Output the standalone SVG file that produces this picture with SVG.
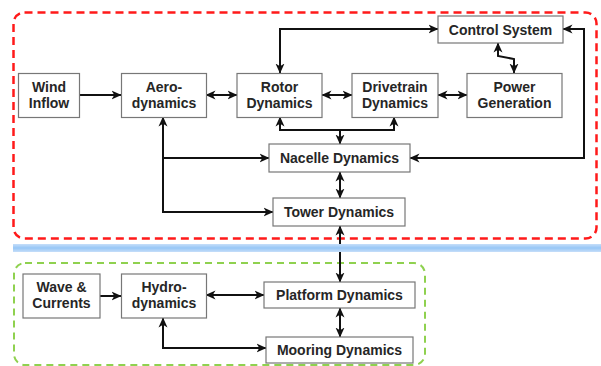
<svg xmlns="http://www.w3.org/2000/svg" width="601" height="366" viewBox="0 0 601 366">
<defs>
<marker id="ah" viewBox="0 0 10 10" refX="9.5" refY="5" markerWidth="10" markerHeight="10" markerUnits="userSpaceOnUse" orient="auto-start-reverse">
<path d="M0,0.5 L10,5 L0,9.5 L2.8,5 z" fill="#111"/>
</marker>
<linearGradient id="band" x1="0" y1="0" x2="0" y2="1">
<stop offset="0" stop-color="#c6def9"/>
<stop offset="0.5" stop-color="#96c6f6"/>
<stop offset="1" stop-color="#c6def9"/>
</linearGradient>
</defs>
<style>
.box{fill:#fff;stroke:#777;stroke-width:1.2}
.t{font-family:"Liberation Sans",Arial,sans-serif;font-weight:bold;font-size:14px;fill:#262626;text-anchor:middle}
.c{fill:none;stroke:#111;stroke-width:2;stroke-linejoin:miter}
.ab{marker-start:url(#ah);marker-end:url(#ah)}
.ae{marker-end:url(#ah)}
</style>
<rect x="13.5" y="12.5" width="583" height="226" rx="11" fill="none" stroke="#ff1a1a" stroke-width="2.5" stroke-dasharray="8,5"/>
<rect x="14" y="263" width="411" height="102" rx="11" fill="none" stroke="#8fd14f" stroke-width="2" stroke-dasharray="7,5"/>
<g id="connectors">
<path class="c ae" d="M79,95 H121"/>
<path class="c ab" d="M206,95 H237"/>
<path class="c ab" d="M322,95 H352"/>
<path class="c ab" d="M438,95 H467"/>
<path class="c ab" d="M438,29 H280 V73"/>
<path class="c ab" d="M498,43 V56 L514,59 V73"/>
<path class="c ab" d="M410,158 H584 V29 H563"/>
<path class="c ab" d="M280,117 V130 H394 V117"/>
<path class="c ae" d="M340,130 V144"/>
<path class="c ab" d="M163,117 V212 H273"/>
<path class="c ae" d="M163,158 H269"/>
<path class="c ab" d="M340,172 V198"/>
<path class="c ab" d="M340,226 V282"/>
<path class="c ab" d="M340,308 V337"/>
<path class="c ae" d="M100,296 H121"/>
<path class="c ab" d="M206,295 H264"/>
<path class="c ab" d="M163,318 V348 H266"/>
</g>
<rect x="13" y="244" width="588" height="8" fill="url(#band)"/>
<g id="wind-inflow"><rect class="box" x="18.5" y="73.5" width="61" height="44"/><text class="t" x="49" y="92">Wind</text><text class="t" x="49" y="108">Inflow</text></g>
<g id="aerodynamics"><rect class="box" x="121.5" y="73.5" width="85" height="44"/><text class="t" x="164" y="92">Aero-</text><text class="t" x="164" y="108">dynamics</text></g>
<g id="rotor-dynamics"><rect class="box" x="237" y="73.5" width="85" height="44"/><text class="t" x="279.5" y="92">Rotor</text><text class="t" x="279.5" y="108">Dynamics</text></g>
<g id="drivetrain-dynamics"><rect class="box" x="352" y="73.5" width="86" height="44"/><text class="t" x="395" y="92">Drivetrain</text><text class="t" x="395" y="108">Dynamics</text></g>
<g id="power-generation"><rect class="box" x="467" y="73.5" width="95" height="44"/><text class="t" x="514.5" y="92">Power</text><text class="t" x="514.5" y="108">Generation</text></g>
<g id="control-system"><rect class="box" x="438" y="16" width="125" height="27"/><text class="t" x="500.5" y="35">Control System</text></g>
<g id="nacelle-dynamics"><rect class="box" x="269" y="144" width="141" height="28"/><text class="t" x="339.5" y="163">Nacelle Dynamics</text></g>
<g id="tower-dynamics"><rect class="box" x="273" y="198" width="132" height="28"/><text class="t" x="339" y="217">Tower Dynamics</text></g>
<g id="wave-currents"><rect class="box" x="23" y="274" width="77" height="44"/><text class="t" x="61.5" y="292">Wave &amp;</text><text class="t" x="61.5" y="308">Currents</text></g>
<g id="hydrodynamics"><rect class="box" x="121.5" y="274" width="85" height="44"/><text class="t" x="164" y="292">Hydro-</text><text class="t" x="164" y="308">dynamics</text></g>
<g id="platform-dynamics"><rect class="box" x="264" y="282" width="151" height="26"/><text class="t" x="339.5" y="300">Platform Dynamics</text></g>
<g id="mooring-dynamics"><rect class="box" x="266" y="337" width="147" height="26"/><text class="t" x="339.5" y="355">Mooring Dynamics</text></g>
</svg>
